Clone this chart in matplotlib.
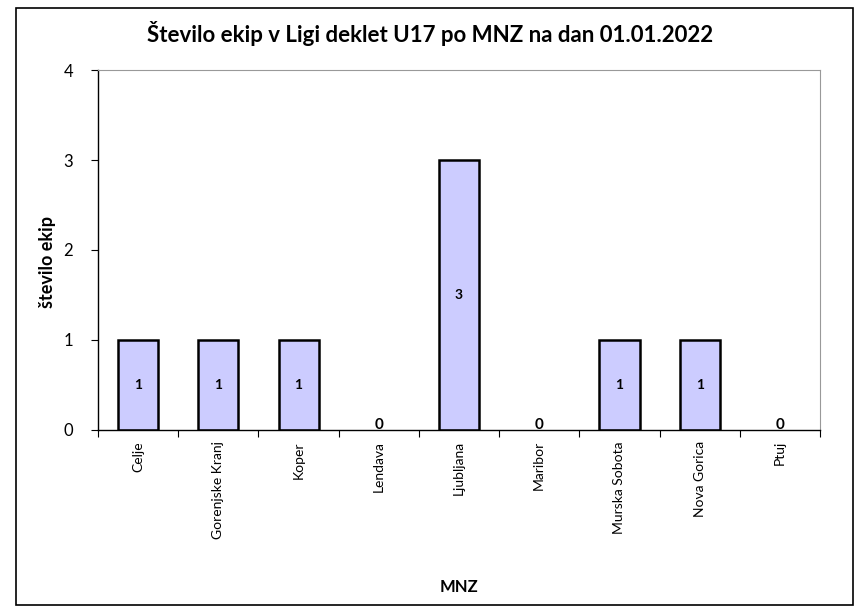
import matplotlib.pyplot as plt
from matplotlib.patches import Rectangle

plt.rcParams['font.family'] = ['Lato', 'DejaVu Sans']

categories = ['Celje', 'Gorenjske Kranj', 'Koper', 'Lendava', 'Ljubljana',
              'Maribor', 'Murska Sobota', 'Nova Gorica', 'Ptuj']
values = [1, 1, 1, 0, 3, 0, 1, 1, 0]
title = 'Število ekip v Ligi deklet U17 po MNZ na dan 01.01.2022'

fig = plt.figure(figsize=(8.6, 6.09), dpi=100)
ax = fig.add_axes([0.114, 0.294, 0.8395, 0.591])

x = range(len(categories))
bars = ax.bar(x, values, width=0.5, color='#CCCCFF', edgecolor='black', linewidth=1.8)
for b, v in zip(bars, values):
    if v == 0:
        b.set_linewidth(0)  # empty categories show no outline

for xi, v in zip(x, values):
    if v > 0:
        ax.text(xi, v / 2, str(v), ha='center', va='center', fontsize=10, fontweight='bold')
    else:
        ax.text(xi, 0.06, str(v), ha='center', va='center', fontsize=11, fontweight='bold')

ax.set_xlim(-0.5, len(categories) - 0.5)
ax.set_ylim(0, 4)
ax.set_yticks([0, 1, 2, 3, 4])
ax.set_xticks([i - 0.5 for i in range(len(categories) + 1)], minor=False)
ax.set_xticklabels([])
ax.set_xticks(list(x), minor=True)
ax.set_xticklabels(categories, minor=True, rotation=90, fontsize=10)
ax.tick_params(axis='x', which='minor', length=0, pad=8)
ax.tick_params(axis='x', which='major', length=5, direction='out')
ax.tick_params(axis='y', length=5, direction='out', labelsize=12, pad=13)

for s in ['top', 'right']:
    ax.spines[s].set_color('#999999')
for s in ['left', 'bottom']:
    ax.spines[s].set_color('black')
    ax.spines[s].set_linewidth(1.0)

fig.text(48 / 860, 1 - 262 / 609, 'število ekip', rotation=90, ha='center', va='center',
         fontsize=13, fontweight='bold')
fig.text(0.5 * (0.114 + 0.9535), 1 - 587 / 609, 'MNZ', ha='center', va='center',
         fontsize=12, fontweight='bold')
fig.text(0.5, 1 - 33 / 609, title, ha='center', va='center', fontsize=16, fontweight='bold')

fig.patches.append(Rectangle((16 / 860, 4 / 609), 837 / 860, 597 / 609, transform=fig.transFigure,
                             fill=False, edgecolor='black', linewidth=1.2))

fig.savefig('out.png', dpi=100)
